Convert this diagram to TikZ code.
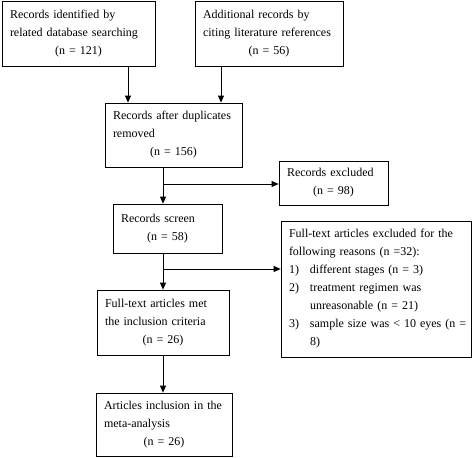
\documentclass[tikz,border=0pt]{standalone}
\usepackage{fontspec}
\setmainfont{Liberation Serif}
\usetikzlibrary{arrows.meta}
\tikzset{
	box/.style={draw, line width=0.8pt, align=left, inner xsep=8pt, inner ysep=0pt, font=\fontsize{12}{18}\selectfont},
	arr/.style={line width=0.8pt, -{Triangle[length=7pt,width=6pt]}}
}
\newcommand{\nrow}[1]{\hfill#1\hfill\null}
\newcommand{\reason}[1]{\makebox[21pt][l]{#1}}

\begin{document}
\begin{tikzpicture}[x=1pt,y=-1pt]
					\useasboundingbox (0,0) rectangle (472,458);
					\path (78.5,33.5) node[box, text width=137pt, minimum height=65pt] (v0) {Records identified by\\related database searching\\\nrow{(n = 121)}};
					\path (269,33.5) node[box, text width=132pt, minimum height=65pt] (v1) {Additional records by\\citing literature references\\\nrow{(n = 56)}};
					\path (173.5,135) node[box, text width=121pt, minimum height=64pt] (v2) {Records after duplicates\\removed\\\nrow{(n = 156)}};
					\path (333.5,183) node[box, text width=93pt, minimum height=44pt] (v3) {Records excluded\\\nrow{(n = 98)}};
					\path (167.5,228.5) node[box, text width=93pt, minimum height=49pt] (v4) {Records screen\\\nrow{(n = 58)}};
					\path (376,289) node[box, inner xsep=8pt, text width=174pt, minimum height=136pt] (v5) {Full-text articles excluded for the\\following reasons (n =32):\\\reason{1)}different stages (n = 3)\\\reason{2)}treatment regimen was\\\hspace*{21pt}unreasonable (n = 21)\\\reason{3)}\mbox{sample size was < 10 eyes (n =}\\\hspace*{21pt}8)};
					\path (163,322.5) node[box, text width=116pt, minimum height=65pt] (v6) {Full-text articles met\\the inclusion criteria\\\nrow{(n = 26)}};
					\path (164,424.5) node[box, text width=120pt, minimum height=63pt] (v7) {Articles inclusion in the\\meta-analysis\\\nrow{(n = 26)}};
					\coordinate (j1) at (163,184);
					\coordinate (j2) at (163,269);
					\draw[arr] (128,0 |- v0.south) -- (128,0 |- v2.north);
					\draw[arr] (221,0 |- v1.south) -- (221,0 |- v2.north);
					\draw[arr] (163,0 |- v2.south) -- (163,0 |- v4.north);
					\draw[arr] (j1) -- (j1 -| v3.west);
					\draw[arr] (163,0 |- v4.south) -- (163,0 |- v6.north);
					\draw[arr] (j2) -- (j2 -| v5.west);
					\draw[arr] (163,0 |- v6.south) -- (163,0 |- v7.north);
\end{tikzpicture}
\end{document}
